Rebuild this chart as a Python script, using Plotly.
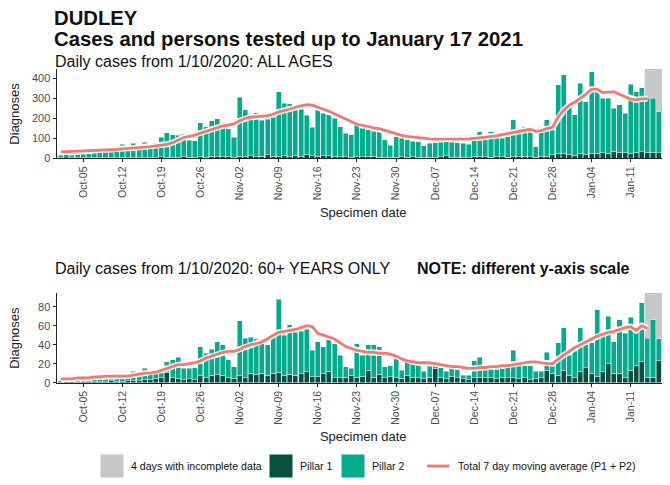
import pandas as pd
import plotly.graph_objects as go

FONT = "Liberation Sans, Arial, sans-serif"
# the page body keeps its default 8px margin, so the figure is 8px smaller
OFF = 8
W, H = 670 - OFF, 485 - OFF

# one bar per specimen date, 1 Oct 2020 .. 17 Jan 2021
dates = pd.date_range("2020-10-01", "2021-01-17", freq="D")
# the moving average stops where the incomplete days begin
ma_dates = pd.date_range("2020-10-01", "2021-01-14", freq="D")
week_ticks = pd.date_range("2020-10-05", "2021-01-18", freq="7D")

# ---- ALL AGES ----
all_p1 = [2, 1, 2, 2, 3, 2, 3, 3, 2, 3, 4,
          3, 4, 3, 4, 3, 5, 4,
          8, 6, 5, 6, 7, 5, 4,
          8, 6, 10, 9, 8, 7,
          6, 10, 9, 12, 8, 11, 18, 10,
          9, 12, 11, 14, 10, 17, 12,
          10, 13, 12, 9, 8, 7, 6,
          9, 8, 10, 7, 6, 5, 5, 6,
          7, 6, 8, 5, 5, 6, 6, 7,
          14, 6, 5, 6, 4,
          8, 7, 9, 6, 8, 7, 6,
          7, 8, 10, 9, 5, 8, 10,
          18, 22, 25, 20,
          15, 22, 20, 25, 24, 28, 26, 35, 30, 28,
          26, 30, 32, 28, 30, 27, 3]
all_p2 = [14, 16, 14, 17, 18, 21, 22, 24, 28, 28, 31,
          67, 44, 72, 48, 77, 50, 54,
          97, 122, 113, 109, 115, 85, 84,
          170, 152, 178, 188, 142, 141,
          99, 295, 233, 198, 220, 179, 177, 195,
          324, 263, 261, 236, 235, 198, 143,
          258, 212, 205, 191, 150, 118, 111,
          158, 142, 132, 128, 127, 87, 60, 102,
          93, 86, 77, 78, 57, 69, 72, 73,
          91, 74, 73, 69, 66,
          109, 126, 83, 127, 92, 93, 102,
          185, 125, 148, 133, 53, 150, 182,
          140, 345, 392, 238,
          202, 353, 263, 408, 318, 272, 274, 215, 237, 197,
          344, 303, 321, 272, 270, 206, 14]
all_ma = [32, 33, 33, 34, 35, 36, 37, 38, 39, 41,
          44, 47, 50, 52, 54, 56, 58, 61, 64, 70,
          78, 92, 104, 110, 116, 126, 135, 145, 155, 162, 166,
          172, 188, 200, 205, 208, 210, 213, 220, 232, 238,
          248, 255, 262, 268, 265, 253, 245, 235, 222, 210,
          198, 185, 170, 165, 158, 152, 148, 140, 130, 122,
          115, 110, 106, 102, 99, 97, 96, 96, 97, 97,
          97, 97, 97, 100, 103, 106, 108, 112, 118, 124,
          130, 133, 140, 145, 135, 138, 148, 155, 205, 240, 265,
          280, 300, 320, 345, 345, 328, 330, 333, 320, 308, 296, 292, 297, 298]

# ---- 60+ YEARS ----
old_p1 = [0, 1, 1, 0, 1, 1, 1, 1, 1, 2, 1,
          1, 2, 2, 2, 3, 3, 4,
          5, 11, 5, 4, 3, 4, 3,
          8, 6, 8, 9, 8, 5,
          4, 8, 6, 10, 9, 10, 8, 10,
          11, 8, 9, 8, 10, 12, 7,
          7, 10, 12, 5, 6, 6, 8,
          6, 7, 13, 6, 9, 5, 7, 6,
          4, 8, 6, 5, 4, 6, 15, 6,
          4, 7, 5, 4, 3,
          5, 6, 5, 5, 4, 6, 5,
          6, 4, 5, 3, 4, 5, 13,
          10, 8, 13, 8,
          5, 12, 16, 10, 7, 12, 20, 10, 10, 6,
          13, 18, 22, 6, 6, 23, 4]
old_p2 = [2, 2, 5, 2, 2, 3, 4, 3, 5, 3, 5,
          5, 5, 10, 6, 12, 6, 6,
          9, 11, 19, 23, 12, 11, 13,
          30, 25, 27, 34, 32, 19,
          13, 57, 41, 38, 37, 31, 32, 38,
          77, 42, 52, 45, 44, 44, 27,
          36, 28, 33, 36, 23, 11, 7,
          35, 22, 27, 34, 29, 12, 11, 20,
          9, 14, 14, 14, 8, 12, 3, 10,
          8, 8, 10, 4, 5,
          18, 21, 8, 9, 10, 9, 13,
          28, 15, 13, 15, 8, 7, 19,
          9, 34, 45, 21,
          31, 46, 24, 32, 70, 40, 50, 33, 56, 46,
          56, 36, 62, 41, 60, 23, 4]
old_ma = [4, 4, 4, 5, 5, 5, 6, 6, 7, 7,
          7, 7, 7, 8, 9, 10, 10, 11, 13, 15,
          17, 19, 19, 20, 21, 23, 26, 28, 30, 32, 33,
          33, 35, 38, 40, 41, 43, 46, 50, 53, 54,
          55, 56, 58, 60, 59, 52, 50, 48, 46, 42,
          38, 36, 34, 33, 32, 32, 31, 31, 30, 28,
          25, 23, 22, 21, 21, 21, 20, 19, 18, 17,
          17, 16, 15, 15, 16, 16, 17, 17, 18, 18,
          19, 20, 21, 22, 22, 21, 20, 20, 25, 29, 33,
          37, 40, 43, 46, 49, 51, 53, 54, 56, 58, 59, 55, 60, 57]

TEAL = "#00ae8d"
DARK = "#05503e"
GREY = "#c8c8c8"
RED = "#f8766d"
TICK_GREY = "#4d4d4d"


# positions below are written in screenshot pixels
def px_x(x):
    return (x - OFF) / W


def px_y(y):
    return 1 - (y - OFF) / H


fig = go.Figure()

# p1, p2, ma, axis suffix, plot top px, plot bottom px, y max, y step
panels = [
    (all_p1, all_p2, all_ma, "", 69, 158.3, 446, 100),
    (old_p1, old_p2, old_ma, "2", 293, 382.7, 94.4, 20),
]

x_left = 56.5
for p1, p2, ma, sfx, top, bottom, ymax, step in panels:
    xa, ya = "x" + sfx, "y" + sfx
    fig.add_trace(go.Bar(x=dates, y=p1, marker_color=DARK, name="Pillar 1",
                         xaxis=xa, yaxis=ya, showlegend=False))
    fig.add_trace(go.Bar(x=dates, y=p2, marker_color=TEAL, name="Pillar 2",
                         xaxis=xa, yaxis=ya, showlegend=False))
    # white halo under the average line
    fig.add_trace(go.Scatter(x=ma_dates, y=ma, mode="lines", hoverinfo="skip",
                             line=dict(color="white", width=6),
                             xaxis=xa, yaxis=ya, showlegend=False))
    fig.add_trace(go.Scatter(x=ma_dates, y=ma, mode="lines",
                             name="Total 7 day moving average (P1 + P2)",
                             line=dict(color=RED, width=2.8),
                             xaxis=xa, yaxis=ya, showlegend=False))

    axis_common = dict(showline=True, linecolor="#222", linewidth=1, ticks="outside",
                       ticklen=3, tickcolor="#222", showgrid=False, zeroline=False,
                       automargin=False)
    fig.layout["xaxis" + sfx] = dict(
        axis_common, domain=[px_x(x_left), 1], anchor=ya, type="date",
        range=["2020-09-30 05:30", "2021-01-18 01:00"],
        tickvals=week_ticks, tickformat="%b-%d", tickangle=-90,
        tickfont=dict(family=FONT, size=10.5, color=TICK_GREY),
        title=dict(text="Specimen date", standoff=8,
                   font=dict(family=FONT, size=13, color="#222")))
    fig.layout["yaxis" + sfx] = dict(
        axis_common, domain=[px_y(bottom), px_y(top)], anchor=xa,
        range=[0, ymax], dtick=step,
        tickfont=dict(family=FONT, size=11, color=TICK_GREY))

    # shaded block for the last 4 (incomplete) days
    fig.add_shape(type="rect", xref=xa, yref=ya + " domain",
                  x0="2021-01-13 12:00", x1="2021-01-18 01:00", y0=0, y1=1,
                  fillcolor=GREY, line_width=0, layer="below")

    fig.add_annotation(text="Diagnoses", xref="paper", yref="paper",
                       x=px_x(15), y=px_y((top + bottom) / 2), textangle=-90,
                       xanchor="center", yanchor="middle", showarrow=False,
                       font=dict(family=FONT, size=13, color="#222"))


def text(label, x, y, size, bold=False):
    if bold:
        label = "<b>" + label + "</b>"
    fig.add_annotation(text=label, xref="paper", yref="paper", x=px_x(x), y=px_y(y),
                       xanchor="left", yanchor="middle", showarrow=False,
                       font=dict(family=FONT, size=size, color="#111"))


text("DUDLEY", 52, 18, 20.3, bold=True)
text("Cases and persons tested up to January 17 2021", 52, 39, 20.3, bold=True)
text("Daily cases from 1/10/2020: ALL AGES", 53, 62, 16)
text("Daily cases from 1/10/2020: 60+ YEARS ONLY", 53, 268, 16)
text("NOTE: different y-axis scale", 415, 268, 16, bold=True)

# legend drawn by hand so the keys match the reference size
legend_y = 466
keys = [(100, GREY, "4 days with incomplete data"),
        (269, DARK, "Pillar 1"),
        (341, TEAL, "Pillar 2")]
for x0, col, lab in keys:
    fig.add_shape(type="rect", xref="paper", yref="paper",
                  x0=px_x(x0), x1=px_x(x0 + 24), y0=px_y(legend_y + 12), y1=px_y(legend_y - 12),
                  fillcolor=col, line=dict(color="white", width=1))
    text(lab, x0 + 29, legend_y, 10.6)
fig.add_shape(type="line", xref="paper", yref="paper",
              x0=px_x(427), x1=px_x(449), y0=px_y(legend_y), y1=px_y(legend_y),
              line=dict(color=RED, width=2.8))
text("Total 7 day moving average (P1 + P2)", 456, legend_y, 10.6)

fig.update_layout(
    width=W, height=H,
    margin=dict(l=0, r=0, t=0, b=0),
    barmode="stack", bargap=0.1,
    plot_bgcolor="white", paper_bgcolor="white",
    showlegend=False,
    font=dict(family=FONT),
)

fig.write_html("out.html")
